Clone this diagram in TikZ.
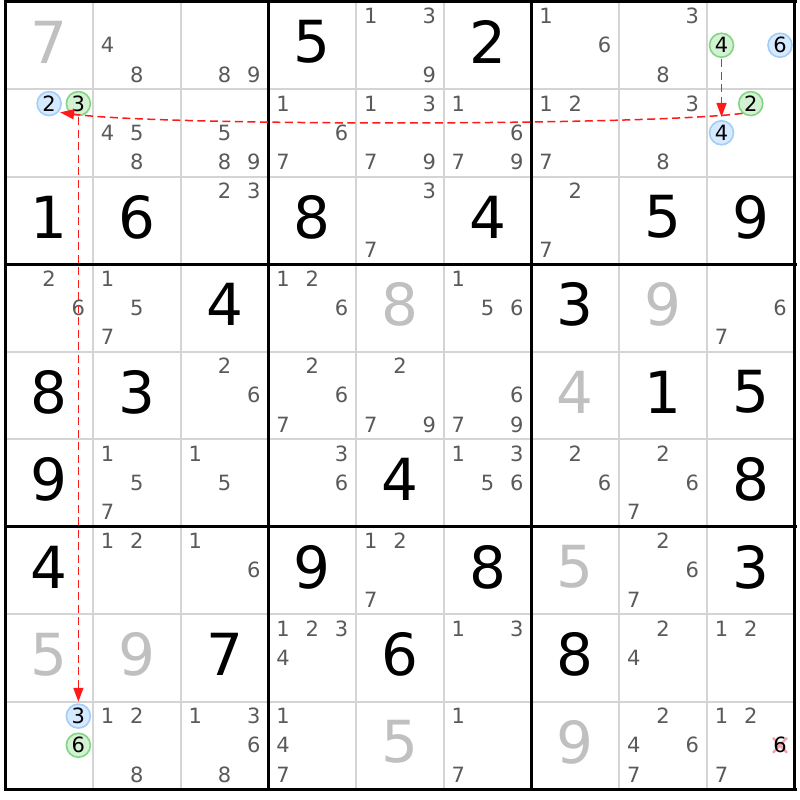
\documentclass[tikz,border=0pt]{standalone}
\usepackage{fontspec}
\setmainfont{DejaVu Sans}
\usetikzlibrary{arrows.meta}
\definecolor{candgray}{HTML}{5A5A5A}
\definecolor{givengray}{HTML}{C0C0C0}
\definecolor{gridgray}{HTML}{D4D4D4}
\definecolor{bluefill}{HTML}{D5E9FF}
\definecolor{blueline}{HTML}{A3CDF7}
\definecolor{greenfill}{HTML}{D3F1D3}
\definecolor{greenline}{HTML}{82D682}
\definecolor{linkred}{HTML}{FF1A1A}
\definecolor{xpink}{HTML}{F4A2AC}
\begin{document}
\begin{tikzpicture}[x=1pt,y=-1pt,
  cand/.style={inner sep=0pt, text=candgray, font=\fontsize{21}{21}\selectfont},
  bigblack/.style={inner sep=0pt, text=black, font=\fontsize{58}{58}\selectfont},
  biggray/.style={inner sep=0pt, text=givengray, font=\fontsize{58}{58}\selectfont},
  bluec/.style={circle, inner sep=0pt, minimum size=24pt, line width=1.6pt, draw=blueline, fill=bluefill, text=black, font=\fontsize{21}{21}\selectfont},
  greenc/.style={circle, inner sep=0pt, minimum size=24pt, line width=1.6pt, draw=greenline, fill=greenfill, text=black, font=\fontsize{21}{21}\selectfont},
  elim/.style={inner sep=0pt, text=black, font=\fontsize{21}{21}\selectfont},
  thinline/.style={draw=gridgray, line width=2pt},
  thickline/.style={draw=black, line width=3pt},
  link/.style={draw=linkred, line width=1.5pt, dash pattern=on 8pt off 4.5pt, -{Triangle[length=14pt,width=10pt]}},
  xmark/.style={draw=xpink, line width=2.4pt}
]
\useasboundingbox (0,0) rectangle (800,800);
\fill[white] (0,0) rectangle (800,800);
% thin grid lines
\foreach \i in {1,2,4,5,7,8}{
  \draw[thinline] ({5.3+\i*87.7},1.5) -- ({5.3+\i*87.7},789);
  \draw[thinline] (5.3,{1.5+\i*87.5}) -- (795,{1.5+\i*87.5});
}
% thick grid lines
\foreach \i in {0,3,6,9}{
  \draw[thickline] ({5.3+\i*87.7},0) -- ({5.3+\i*87.7},790.5);
  \draw[thickline] (3.8,{1.5+\i*87.5}) -- (796.5,{1.5+\i*87.5});
}
% candidates
\foreach \r/\c/\d in {
  0/1/4,0/1/8, 0/2/8,0/2/9, 0/4/1,0/4/3,0/4/9, 0/6/1,0/6/6, 0/7/3,0/7/8,
  1/1/4,1/1/5,1/1/8, 1/2/5,1/2/8,1/2/9, 1/3/1,1/3/6,1/3/7, 1/4/1,1/4/3,1/4/7,1/4/9,
  1/5/1,1/5/6,1/5/7,1/5/9, 1/6/1,1/6/2,1/6/7, 1/7/3,1/7/8,
  2/2/2,2/2/3, 2/4/3,2/4/7, 2/6/2,2/6/7,
  3/0/2,3/0/6, 3/1/1,3/1/5,3/1/7, 3/3/1,3/3/2,3/3/6, 3/5/1,3/5/5,3/5/6, 3/8/6,3/8/7,
  4/2/2,4/2/6, 4/3/2,4/3/6,4/3/7, 4/4/2,4/4/7,4/4/9, 4/5/6,4/5/7,4/5/9,
  5/1/1,5/1/5,5/1/7, 5/2/1,5/2/5, 5/3/3,5/3/6, 5/5/1,5/5/3,5/5/5,5/5/6, 5/6/2,5/6/6, 5/7/2,5/7/6,5/7/7,
  6/1/1,6/1/2, 6/2/1,6/2/6, 6/4/1,6/4/2,6/4/7, 6/7/2,6/7/6,6/7/7,
  7/3/1,7/3/2,7/3/3,7/3/4, 7/5/1,7/5/3, 7/7/2,7/7/4, 7/8/1,7/8/2,
  8/1/1,8/1/2,8/1/8, 8/2/1,8/2/3,8/2/6,8/2/8, 8/3/1,8/3/4,8/3/7, 8/5/1,8/5/7,
  8/7/2,8/7/4,8/7/6,8/7/7, 8/8/1,8/8/2,8/8/7}{
  \pgfmathsetmacro\px{5.3+\c*87.7+(mod(\d-1,3)+0.5)*87.7/3}
  \pgfmathsetmacro\py{1.5+\r*87.5+(int((\d-1)/3)+0.5)*87.5/3}
  \node[cand] (k\r\c\d) at (\px,\py) {\d};
}
% big digits
\foreach \r/\c/\d/\s in {
  0/0/7/biggray, 0/3/5/bigblack, 0/5/2/bigblack,
  2/0/1/bigblack, 2/1/6/bigblack, 2/3/8/bigblack, 2/5/4/bigblack, 2/7/5/bigblack, 2/8/9/bigblack,
  3/2/4/bigblack, 3/4/8/biggray, 3/6/3/bigblack, 3/7/9/biggray,
  4/0/8/bigblack, 4/1/3/bigblack, 4/6/4/biggray, 4/7/1/bigblack, 4/8/5/bigblack,
  5/0/9/bigblack, 5/4/4/bigblack, 5/8/8/bigblack,
  6/0/4/bigblack, 6/3/9/bigblack, 6/5/8/bigblack, 6/6/5/biggray, 6/8/3/bigblack,
  7/0/5/biggray, 7/1/9/biggray, 7/2/7/bigblack, 7/4/6/bigblack, 7/6/8/bigblack,
  8/4/5/biggray, 8/6/9/biggray}{
  \pgfmathsetmacro\px{5.3+(\c+0.5)*87.7}
  \pgfmathsetmacro\py{1.5+(\r+0.5)*87.5-3}
  \node[\s] (v\r\c) at (\px,\py) {\d};
}
% highlighted candidates
\foreach \r/\c/\d/\s/\n in {
  0/8/4/greenc/g08, 0/8/6/bluec/b08,
  1/0/2/bluec/b10, 1/0/3/greenc/g10,
  1/8/2/greenc/g18, 1/8/4/bluec/b18,
  8/0/3/bluec/b80, 8/0/6/greenc/g80}{
  \pgfmathsetmacro\px{5.3+\c*87.7+(mod(\d-1,3)+0.5)*87.7/3}
  \pgfmathsetmacro\py{1.5+\r*87.5+(int((\d-1)/3)+0.5)*87.5/3}
  \node[\s] (\n) at (\px,\py) {\d};
}
% eliminated candidate
\coordinate (xc) at ({5.3+8*87.7+2.5*87.7/3},{1.5+8*87.5+1.5*87.5/3});
\draw[xmark] ([shift={(-7,-7.5)}]xc) -- ([shift={(7,7.5)}]xc);
\draw[xmark] ([shift={(-7,7.5)}]xc) -- ([shift={(7,-7.5)}]xc);
\node[elim] (e886) at (xc) {6};
% links
\draw[link, shorten <=1pt, shorten >=3pt] (g08) -- (b18);
\draw[link, shorten >=1.5pt] (g18.230) .. controls (640,126) and (160,126) .. (b10.-42);
\draw[link, shorten <=1pt, shorten >=1.5pt] (g10) -- (b80);
\end{tikzpicture}
\end{document}
